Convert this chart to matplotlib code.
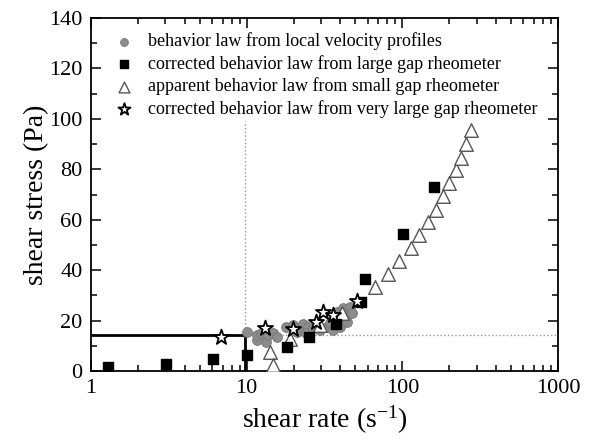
import numpy as np
import matplotlib.pyplot as plt
from matplotlib.ticker import MultipleLocator, LogLocator, FixedLocator, FixedFormatter

plt.rcParams['font.family'] = ['Liberation Serif', 'DejaVu Serif']
plt.rcParams['mathtext.default'] = 'regular'

# behavior law from local velocity profiles (gray dots)
local_rate = [10.0, 11.6, 11.7, 12.3, 13.3, 13.8, 14.8, 15.6, 18.0, 19.9, 21.1, 22.5,
              23.1, 24.9, 24.2, 26.7, 29.5, 32.6, 34.3, 36.0, 37.9, 39.8, 39.8, 41.7,
              43.9, 43.9, 46.0, 47.2]
local_stress = [15.4, 12.3, 14.3, 15.2, 11.6, 14.3, 15.2, 13.6, 17.3, 18.2, 15.6, 17.3,
                18.5, 17.6, 15.0, 16.9, 16.3, 17.6, 18.9, 16.3, 23.5, 21.5, 17.6, 24.9,
                19.6, 22.9, 25.5, 22.9]

# corrected behavior law, large gap rheometer (black squares)
large_rate = [1.29, 3.03, 6.05, 10.1, 18.2, 25.3, 37.7, 54.0, 57.5, 101, 160]
large_stress = [1.7, 2.8, 4.6, 6.3, 9.4, 13.6, 18.5, 27.3, 36.4, 54.5, 72.9]

# apparent behavior law, small gap rheometer (open triangles)
small_rate = [14.1, 14.7, 19.0, 29.6, 40.8, 66.7, 80.5, 95.5, 113.6, 128.5, 145.4,
              163.7, 181.6, 199, 220, 238, 256, 276]
small_stress = [7.4, 2.4, 12.6, 18.3, 22.9, 33.5, 38.4, 43.7, 48.7, 53.8, 59.2,
                63.9, 69.4, 74.7, 79.8, 84.6, 90.0, 95.4]

# corrected behavior law, very large gap rheometer (open stars)
vlarge_rate = [6.84, 13.1, 19.7, 27.9, 30.8, 36.0, 51.5]
vlarge_stress = [13.6, 17.2, 16.8, 19.6, 23.3, 22.4, 27.6]

# critical shear rate / yield stress guide lines
crit_rate = 9.8
crit_stress = 14.3
dotted_top = 99

fig = plt.figure(figsize=(5.97, 4.43), dpi=100)
ax = fig.add_axes([91/597, 72/443, 467/597, 353/443])

ax.plot([crit_rate, crit_rate], [crit_stress, dotted_top], ls=':', color='#999999', lw=1.0, zorder=1)
ax.plot([crit_rate, 1000], [crit_stress, crit_stress], ls=':', color='#999999', lw=1.0, zorder=1)
ax.plot([1, crit_rate, crit_rate], [crit_stress, crit_stress, 0], color='black', lw=2.0, zorder=2)

ax.scatter(local_rate, local_stress, s=50, marker='o', facecolor='#8c8c8c', edgecolor='#777777',
           linewidth=0.6, zorder=3, label='behavior law from local velocity profiles')
ax.scatter(large_rate, large_stress, s=60, marker='s', facecolor='black', edgecolor='black',
           zorder=4, label='corrected behavior law from large gap rheometer')
ax.scatter(small_rate, small_stress, s=95, marker='^', facecolor='white', edgecolor='#555555',
           linewidth=1.0, zorder=3, label='apparent behavior law from small gap rheometer')
ax.scatter(vlarge_rate, vlarge_stress, s=130, marker='*', facecolor='white', edgecolor='black',
           linewidth=1.3, zorder=5, label='corrected behavior law from very large gap rheometer')

ax.set_xscale('log')
ax.set_xlim(1, 1000)
ax.set_ylim(0, 140)
ax.xaxis.set_major_locator(FixedLocator([1, 10, 100, 1000]))
ax.xaxis.set_major_formatter(FixedFormatter(['1', '10', '100', '1000']))
ax.xaxis.set_minor_locator(LogLocator(base=10, subs=np.arange(2, 10)))
ax.yaxis.set_major_locator(MultipleLocator(20))
ax.yaxis.set_minor_locator(MultipleLocator(10))

ax.tick_params(which='both', direction='in', top=True, right=True, width=1.1, labelsize=16)
ax.tick_params(which='major', length=7, pad=6)
ax.tick_params(which='minor', length=4)
for sp in ax.spines.values():
    sp.set_linewidth(1.3)

ax.set_xlabel('shear rate (s$^{\\mathregular{-1}}$)', fontsize=20, labelpad=4)
ax.set_ylabel('shear stress (Pa)', fontsize=20, labelpad=0)

ax.legend(loc='upper left', bbox_to_anchor=(0.0, 1.0), frameon=False, fontsize=13,
          handletextpad=0.35, labelspacing=0.26, borderpad=0.3, scatterpoints=1,
          markerscale=0.8)

fig.savefig('out.png', dpi=100)
